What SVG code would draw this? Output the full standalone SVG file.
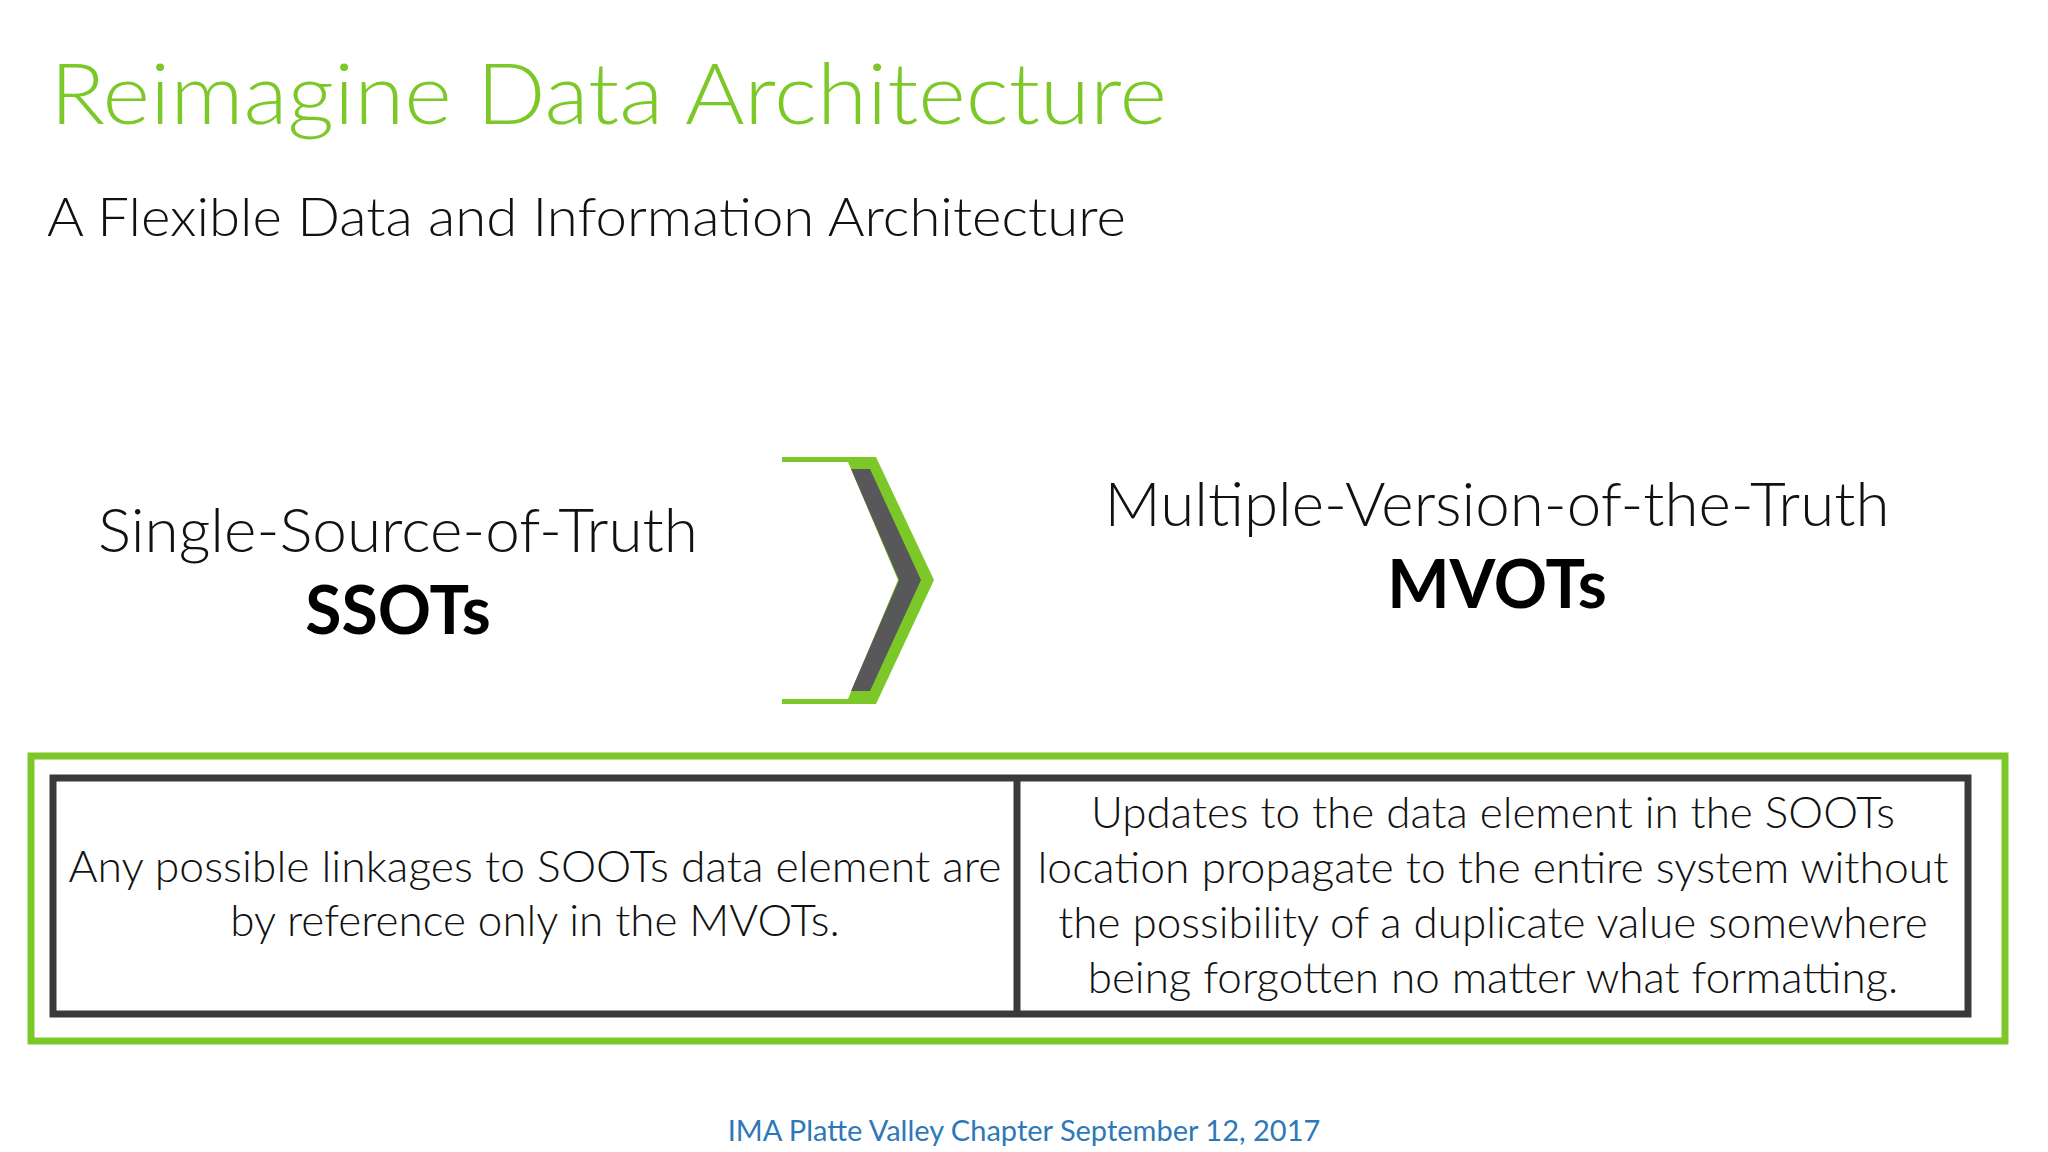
<svg xmlns="http://www.w3.org/2000/svg" width="2048" height="1152" viewBox="0 0 2048 1152">
<style>
text{font-family:Lato,"Open Sans","Liberation Sans",sans-serif;font-weight:300;fill:#111}
.c{text-anchor:middle}
.b{font-weight:700;fill:#000}
.body{font-size:44px}
</style>
<rect width="2048" height="1152" fill="#fff"/>
<g id="title">
<text x="50" y="124" font-size="84" style="fill:#7cc828" textLength="1117" lengthAdjust="spacingAndGlyphs">Reimagine Data Architecture</text>
<text x="47" y="236" font-size="54" textLength="1079" lengthAdjust="spacingAndGlyphs">A Flexible Data and Information Architecture</text>
</g>
<g id="ssot">
<text class="c" x="398" y="552" font-size="62" textLength="600" lengthAdjust="spacingAndGlyphs">Single-Source-of-Truth</text>
<text class="c b" x="398" y="634" font-size="66">SSOTs</text>
</g>
<g id="chevron">
<polygon fill="#7cc828" points="782,457 876,457 934,580 876,704 782,704 782,699 848,699 898,580 848,462 782,462"/>
<polygon fill="#58585a" points="851,469 870,469 921,580 870,691 851,691 899,580"/>
</g>
<g id="mvot">
<text class="c" x="1497" y="526" font-size="62" textLength="785" lengthAdjust="spacingAndGlyphs">Multiple-Version-of-the-Truth</text>
<text class="c b" x="1497" y="608" font-size="66">MVOTs</text>
</g>
<g id="table">
<rect x="31" y="756" width="1974" height="285" fill="none" stroke="#7cc828" stroke-width="7"/>
<rect x="53" y="778" width="1915" height="236" fill="none" stroke="#3a3a3c" stroke-width="7"/>
<line x1="1017" y1="778" x2="1017" y2="1014" stroke="#3a3a3c" stroke-width="7"/>
<text class="c body" x="535" y="882" textLength="933" lengthAdjust="spacingAndGlyphs">Any possible linkages to SOOTs data element are</text>
<text class="c body" x="535" y="936">by reference only in the MVOTs.</text>
<text class="c body" x="1493" y="828">Updates to the data element in the SOOTs</text>
<text class="c body" x="1493" y="883" textLength="911" lengthAdjust="spacingAndGlyphs">location propagate to the entire system without</text>
<text class="c body" x="1493" y="938">the possibility of a duplicate value somewhere</text>
<text class="c body" x="1493" y="993">being forgotten no matter what formatting.</text>
</g>
<g id="footer">
<text class="c" x="1024" y="1141" font-size="29" style="fill:#2e78b8;font-weight:400">IMA Platte Valley Chapter September 12, 2017</text>
</g>
</svg>
